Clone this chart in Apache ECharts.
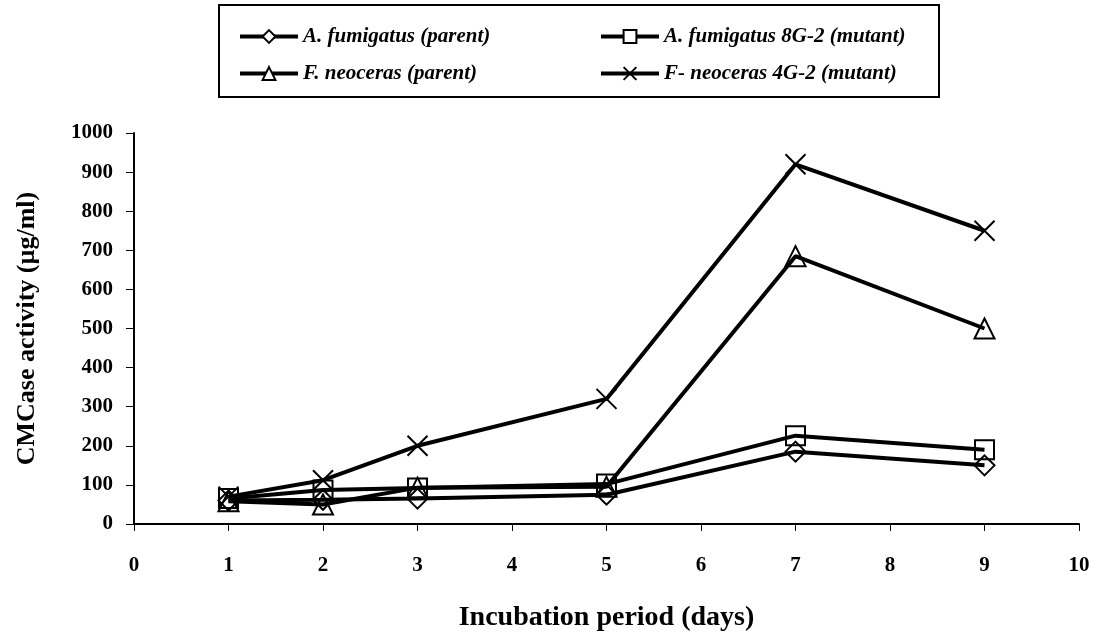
<!DOCTYPE html>
<html>
<head>
<meta charset="utf-8">
<script src="https://cdn.jsdelivr.net/npm/echarts@6/dist/echarts.min.js"></script>
<style>
  html, body { margin: 0; padding: 0; background: #fff; }
  #chart { width: 1097px; height: 633px; }
</style>
</head>
<body>
<div id="chart"></div>
<script>
const days = [1, 2, 3, 5, 7, 9];
const afParent = [60, 62, 65, 75, 185, 150];
const afMutant = [65, 87, 92, 102, 226, 190];
const fnParent = [58, 50, 93, 95, 685, 500];
const fnMutant = [70, 112, 200, 320, 920, 750];
const seriesNames = [
  'A. fumigatus (parent)',
  'A. fumigatus 8G-2 (mutant)',
  'F. neoceras (parent)',
  'F- neoceras 4G-2 (mutant)'
];
const xTicks = [0, 1, 2, 3, 4, 5, 6, 7, 8, 9, 10];
const yTicks = [0, 100, 200, 300, 400, 500, 600, 700, 800, 900, 1000];

const FONT = '"Liberation Serif", "Times New Roman", serif';
const xSymbol = 'path://M0,0L20,20M20,0L0,20';

function pairs(vals) { return days.map((d, i) => [d, vals[i]]); }

function mkSeries(name, vals, symbol, size) {
  return {
    name: name,
    type: 'line',
    data: pairs(vals),
    symbol: symbol,
    symbolSize: size,
    showAllSymbol: true,
    lineStyle: { color: '#000', width: 4 },
    itemStyle: { color: 'rgba(0,0,0,0)', borderColor: '#000', borderWidth: 2 },
    emphasis: { disabled: true },
    z: 3
  };
}

const chart = echarts.init(document.getElementById('chart'), null, { renderer: 'canvas' });
const legendText = { fontFamily: FONT, fontSize: 21, fontWeight: 'bold', fontStyle: 'italic', color: '#000' };
const legendCommon = {
  orient: 'vertical', top: 21,
  itemWidth: 58, itemHeight: 16, itemGap: 16,
  textStyle: legendText,
  lineStyle: { width: 4, color: '#000' },
  itemStyle: { color: '#fff', borderColor: '#000', borderWidth: 2 }
};

chart.setOption({
  animation: false,
  backgroundColor: '#fff',
  grid: { left: 134, right: 18, top: 133, bottom: 109, containLabel: false, outerBoundsMode: 'none' },
  graphic: [{
    type: 'rect',
    shape: { x: 219, y: 5, width: 720, height: 92 },
    style: { fill: 'none', stroke: '#000', lineWidth: 2 },
    z: 0
  }],
  legend: [
    Object.assign({ data: [seriesNames[0], seriesNames[2]], left: 233 }, legendCommon),
    Object.assign({ data: [seriesNames[1], seriesNames[3]], left: 594 }, legendCommon)
  ],
  xAxis: {
    type: 'value',
    min: xTicks[0], max: xTicks[xTicks.length - 1], interval: 1,
    name: 'Incubation period (days)',
    nameLocation: 'middle', nameGap: 80,
    nameTextStyle: { fontFamily: FONT, fontSize: 28, fontWeight: 'bold', color: '#000' },
    axisLine: { lineStyle: { color: '#000', width: 2 } },
    axisTick: { show: true, inside: false, length: 7, lineStyle: { color: '#000', width: 1 } },
    axisLabel: { fontFamily: FONT, fontSize: 21, fontWeight: 'bold', color: '#000', margin: 31 },
    splitLine: { show: false }
  },
  yAxis: {
    type: 'value',
    min: yTicks[0], max: yTicks[yTicks.length - 1], interval: 100,
    name: 'CMCase activity (µg/ml)',
    nameLocation: 'middle', nameGap: 94, nameRotate: 90,
    nameTextStyle: { fontFamily: FONT, fontSize: 26, fontWeight: 'bold', color: '#000' },
    axisLine: { show: true, lineStyle: { color: '#000', width: 2 } },
    axisTick: { show: true, inside: false, length: 8, lineStyle: { color: '#000', width: 1 } },
    axisLabel: {
      fontFamily: FONT, fontSize: 21, fontWeight: 'bold', color: '#000', margin: 21,
      formatter: function (v) { return String(v); }
    },
    splitLine: { show: false }
  },
  series: [
    mkSeries(seriesNames[0], afParent, 'diamond', 20),
    mkSeries(seriesNames[1], afMutant, 'rect', 19),
    mkSeries(seriesNames[2], fnParent, 'triangle', 20),
    mkSeries(seriesNames[3], fnMutant, xSymbol, 20)
  ]
});
</script>
</body>
</html>
